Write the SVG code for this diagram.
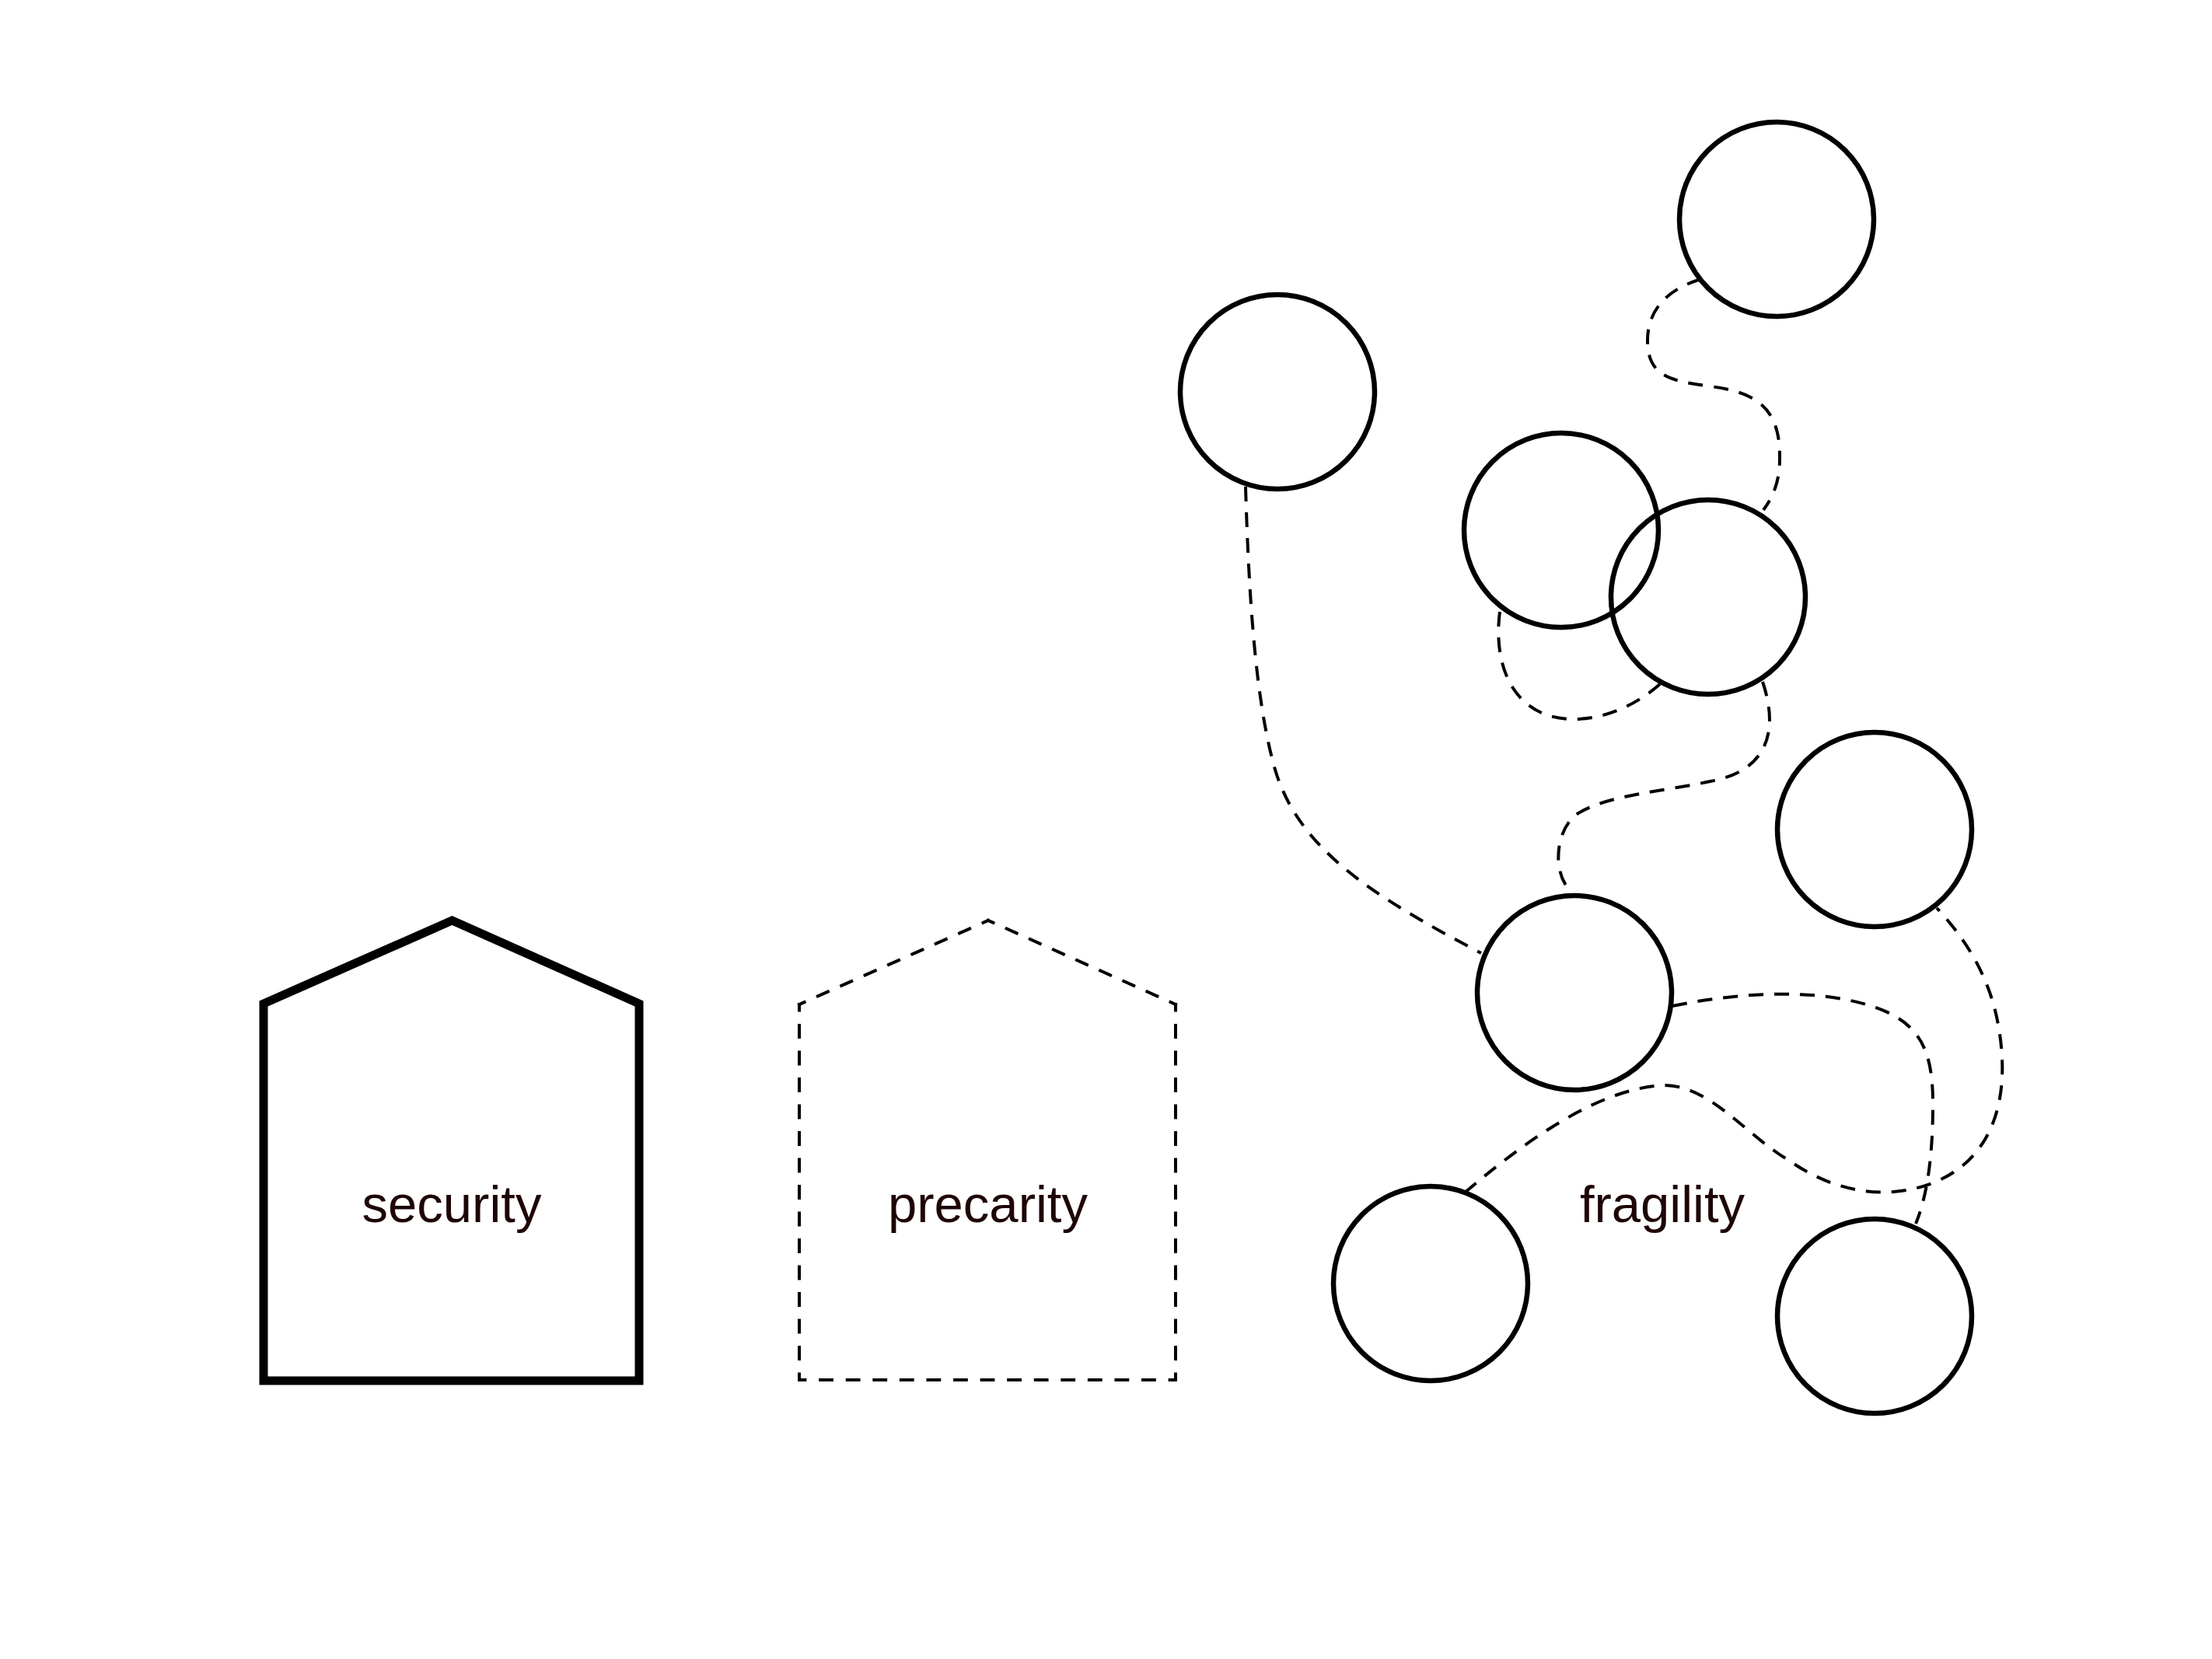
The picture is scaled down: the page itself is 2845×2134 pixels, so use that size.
<svg xmlns="http://www.w3.org/2000/svg" width="2845" height="2134" viewBox="0 0 2845 2134">
<style>
.solid{fill:none;stroke:#000;stroke-width:11;stroke-linejoin:miter;stroke-miterlimit:10}
.edge{fill:none;stroke:#000;stroke-width:4;stroke-linecap:square;stroke-dasharray:15 20;stroke-dashoffset:7.5}
.node{fill:none;stroke:#000;stroke-width:6.5}
.link{fill:none;stroke:#000;stroke-width:4;stroke-dasharray:19 14}
.label{font-family:"Liberation Sans",Arial,Helvetica,sans-serif;font-size:67px;fill:#1e0505;text-anchor:middle}
</style>
<rect width="2845" height="2134" fill="#fff"/>

<g id="house-security">
<path class="solid" d="M339,1776 L339,1291 L581.5,1184 L822,1291 L822,1776 Z"/>
<text class="label" x="581" y="1572">security</text>
</g>

<g id="house-precarity">
<path class="edge" pathLength="490" d="M1028,1775 L1028,1292"/>
<path class="edge" pathLength="280" d="M1028,1292 L1271,1184"/>
<path class="edge" pathLength="280" d="M1271,1184 L1512,1292"/>
<path class="edge" pathLength="490" d="M1512,1292 L1512,1775"/>
<path class="edge" pathLength="490" d="M1512,1775 L1028,1775"/>
<text class="label" x="1270.5" y="1572">precarity</text>
</g>

<g id="connectors">
<path id="link-c1-c6" class="link" d="M1602,626 C1606,760 1614,900 1640,990 C1670,1090 1760,1150 1905,1226"/>
<path id="link-c2-c4" class="link" d="M2188,359 C2150,370 2118,395 2119,440 C2120,485 2150,490 2200,497 C2260,505 2290,525 2289,590 C2289,620 2280,640 2268,656"/>
<path id="link-c3-c4" class="link" d="M1929,787 C1922,840 1935,900 1990,920 C2040,935 2095,915 2135,880"/>
<path id="link-c4-c6" class="link" d="M2267,877 C2285,930 2282,990 2200,1005 C2140,1018 2070,1022 2030,1046 C2000,1065 1995,1125 2022,1148"/>
<path id="link-c6-c8" class="link" d="M2151,1294 C2240,1276 2330,1272 2400,1292 C2470,1312 2486,1350 2486,1420 C2486,1490 2478,1540 2464,1574"/>
<path id="link-c7-c5" class="link" d="M1884,1534 C1950,1478 2050,1400 2140,1396 C2200,1396 2245,1460 2300,1492 C2360,1535 2430,1545 2490,1520 C2560,1490 2585,1420 2572,1330 C2562,1260 2530,1210 2491,1168"/>
</g>

<g id="c1"><circle class="node" cx="1643" cy="504" r="125"/></g>
<g id="c2"><circle class="node" cx="2285" cy="282" r="125"/></g>
<g id="c3"><circle class="node" cx="2008" cy="682" r="125"/></g>
<g id="c4"><circle class="node" cx="2197" cy="768" r="125"/></g>
<g id="c5"><circle class="node" cx="2411" cy="1067" r="125"/></g>
<g id="c6"><circle class="node" cx="2025" cy="1277" r="125"/></g>
<g id="c7"><circle class="node" cx="1840" cy="1651" r="125"/></g>
<g id="c8"><circle class="node" cx="2411" cy="1693" r="125"/></g>

<g id="label-fragility">
<text class="label" x="2138" y="1572">fragility</text>
</g>
</svg>
